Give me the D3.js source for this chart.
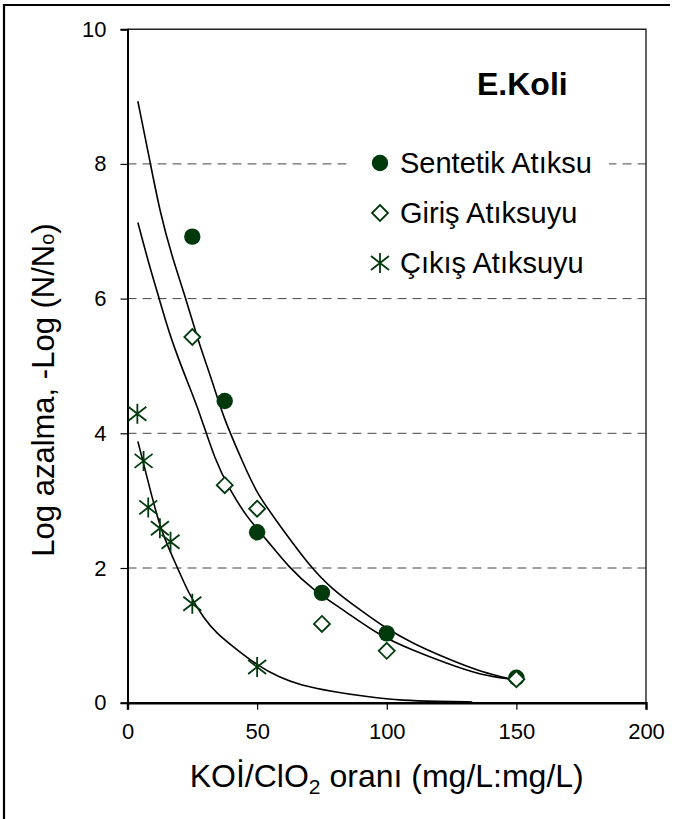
<!DOCTYPE html>
<html>
<head>
<meta charset="utf-8">
<script src="https://cdn.jsdelivr.net/npm/d3@7"></script>
<style>
  html, body { margin: 0; padding: 0; background: #fff; }
  svg { display: block; font-family: Arial, "Liberation Sans", sans-serif; }
</style>
</head>
<body>
<svg id="chart" width="676" height="819"></svg>
<script>
// Measured points: Sentetik Atıksu (filled circles)
const sentetikX = [25, 37.5, 50, 75, 100, 150];
const sentetikY = [6.92, 4.48, 2.53, 1.63, 1.03, 0.37];
// Giriş Atıksuyu (open diamonds)
const girisX = [25, 37.5, 50, 75, 100, 150];
const girisY = [5.43, 3.23, 2.88, 1.17, 0.77, 0.35];
// Çıkış Atıksuyu (asterisks)
const cikisX = [3.8, 6.2, 8.0, 12.5, 16.6, 25, 50];
const cikisY = [4.29, 3.59, 2.9, 2.59, 2.39, 1.47, 0.53];

// Trend lines
const fitSentetikX = [4, 8.8, 12.6, 17.2, 22.3, 27.5, 32.6, 37.1, 44.7, 49.8, 58.2, 70.4, 79.4, 89.7, 99, 110, 123, 136, 150];
const fitSentetikY = [8.93, 8.01, 7.27, 6.62, 6.03, 5.34, 4.79, 4.22, 3.55, 3.11, 2.66, 2.02, 1.67, 1.38, 1.12, 0.88, 0.66, 0.46, 0.33];
const fitGirisX = [4, 8.2, 12, 16.5, 22.3, 27.5, 33.7, 39.5, 45.9, 53.7, 62, 71.7, 83.2, 97.4, 110, 123, 136, 150];
const fitGirisY = [7.13, 6.52, 6.03, 5.43, 4.84, 4.35, 3.6, 3.16, 2.76, 2.42, 2.02, 1.67, 1.38, 0.99, 0.78, 0.585, 0.41, 0.34];
const fitCikisX = [4, 6.2, 9.4, 12.6, 15.9, 19.1, 23.6, 29.4, 34.4, 40.8, 49.8, 58.8, 66.5, 79.4, 92.2, 106.4, 120, 133];
const fitCikisY = [3.88, 3.55, 3.06, 2.61, 2.29, 2.02, 1.62, 1.25, 1.03, 0.83, 0.56, 0.37, 0.263, 0.163, 0.089, 0.03, 0.02, 0.01];

// Axis ticks
const xTicks = [0, 50, 100, 150, 200];
const yTicks = [0, 2, 4, 6, 8, 10];
const gridTicks = [2, 4, 6, 8];

const legendNames = ["Sentetik Atıksu", "Giriş Atıksuyu", "Çıkış Atıksuyu"];
const markerColor = "#003a0c";

const svg = d3.select("#chart");

const x = d3.scaleLinear().domain([0, 200]).range([127.5, 646]);
const y = d3.scaleLinear().domain([0, 10]).range([702.7, 29.2]);

// Outer chart frame (top and left edges)
svg.append("path")
  .attr("d", "M4,819 L4,5 L670,5")
  .attr("fill", "none").attr("stroke", "#000").attr("stroke-width", 2.2);

// Dashed gridlines
svg.append("g").selectAll("line").data(gridTicks).join("line")
  .attr("x1", x(0)).attr("x2", x(200))
  .attr("y1", d => y(d)).attr("y2", d => y(d))
  .attr("stroke", "#444").attr("stroke-width", 1)
  .attr("stroke-dasharray", "9,6");

// Plot frame top and right
svg.append("path")
  .attr("d", `M${x(0)},${y(10)} L${x(200)},${y(10)} L${x(200)},${y(0)}`)
  .attr("fill", "none").attr("stroke", "#222").attr("stroke-width", 1.4);

// Y axis
const yAxis = svg.append("g")
  .attr("transform", `translate(${x(0)},0)`)
  .call(d3.axisLeft(y).tickValues(yTicks).tickFormat(d3.format("d")).tickSize(7).tickPadding(14));
yAxis.select(".domain").attr("stroke", "#000").attr("stroke-width", 2);
yAxis.selectAll(".tick line").attr("stroke", "#000").attr("stroke-width", 1.2);
yAxis.selectAll("text").attr("font-size", 22).attr("fill", "#000")
  .attr("font-family", "Arial, 'Liberation Sans', sans-serif");

// X axis
const xAxis = svg.append("g")
  .attr("transform", `translate(0,${y(0)})`)
  .call(d3.axisBottom(x).tickValues(xTicks).tickFormat(d3.format("d")).tickSize(7).tickPadding(14));
xAxis.select(".domain").attr("stroke", "#000").attr("stroke-width", 2.4);
xAxis.selectAll(".tick line").attr("stroke", "#000").attr("stroke-width", 1.2);
xAxis.selectAll("text").attr("font-size", 22).attr("fill", "#000")
  .attr("font-family", "Arial, 'Liberation Sans', sans-serif");

// Fitted curves
const line = d3.line().x(d => x(d[0])).y(d => y(d[1])).curve(d3.curveBasis);
const fits = [
  d3.zip(fitSentetikX, fitSentetikY),
  d3.zip(fitGirisX, fitGirisY),
  d3.zip(fitCikisX, fitCikisY)
];
svg.append("g").selectAll("path").data(fits).join("path")
  .attr("d", line)
  .attr("fill", "none").attr("stroke", "#000").attr("stroke-width", 1.6);

// Marker shapes
function circleMarker(g) {
  g.append("circle").attr("r", 8.2).attr("fill", markerColor);
}
function diamondMarker(g) {
  g.append("path").attr("d", "M0,-8 L8,0 L0,8 L-8,0 Z")
    .attr("fill", "#fff").attr("stroke", markerColor).attr("stroke-width", 1.8);
}
function starMarker(g) {
  g.append("path").attr("d", "M0,-10 L0,10 M-9,-7 L9,7 M-9,7 L9,-7")
    .attr("fill", "none").attr("stroke", markerColor).attr("stroke-width", 1.8);
}

function drawPoints(xs, ys, draw) {
  const g = svg.append("g");
  d3.zip(xs, ys).forEach(([a, b]) => {
    draw(g.append("g").attr("transform", `translate(${x(a)},${y(b)})`));
  });
}
drawPoints(sentetikX, sentetikY, circleMarker);
drawPoints(girisX, girisY, diamondMarker);
drawPoints(cikisX, cikisY, starMarker);

// Legend with white background
const legend = svg.append("g");
legend.append("rect").attr("x", 352).attr("y", 135).attr("width", 257).attr("height", 150).attr("fill", "#fff");
const markers = [circleMarker, diamondMarker, starMarker];
legendNames.forEach((name, i) => {
  const cy = 163 + i * 50;
  markers[i](legend.append("g").attr("transform", `translate(380,${cy})`));
  legend.append("text").attr("x", 400).attr("y", cy).attr("dy", "0.36em")
    .attr("font-size", 29).attr("fill", "#000").text(name);
});

// Organism label
svg.append("text").attr("x", 477).attr("y", 95)
  .attr("font-size", 32).attr("font-weight", "bold").attr("fill", "#000")
  .text("E.Koli");

// Axis titles
const xt = svg.append("text").attr("x", (x(0) + x(200)) / 2).attr("y", 787)
  .attr("text-anchor", "middle").attr("font-size", 32).attr("fill", "#000");
xt.append("tspan").text("KOİ/ClO");
xt.append("tspan").attr("font-size", 21).attr("dy", 7).text("2");
xt.append("tspan").attr("dy", -7).text(" oranı (mg/L:mg/L)");

const yt = svg.append("text")
  .attr("transform", "translate(54,390) rotate(-90)")
  .attr("text-anchor", "middle").attr("font-size", 31).attr("fill", "#000");
yt.append("tspan").text("Log azalma, -Log (N/N");
yt.append("tspan").attr("font-size", 20).text("o");
yt.append("tspan").text(")");
</script>
</body>
</html>
